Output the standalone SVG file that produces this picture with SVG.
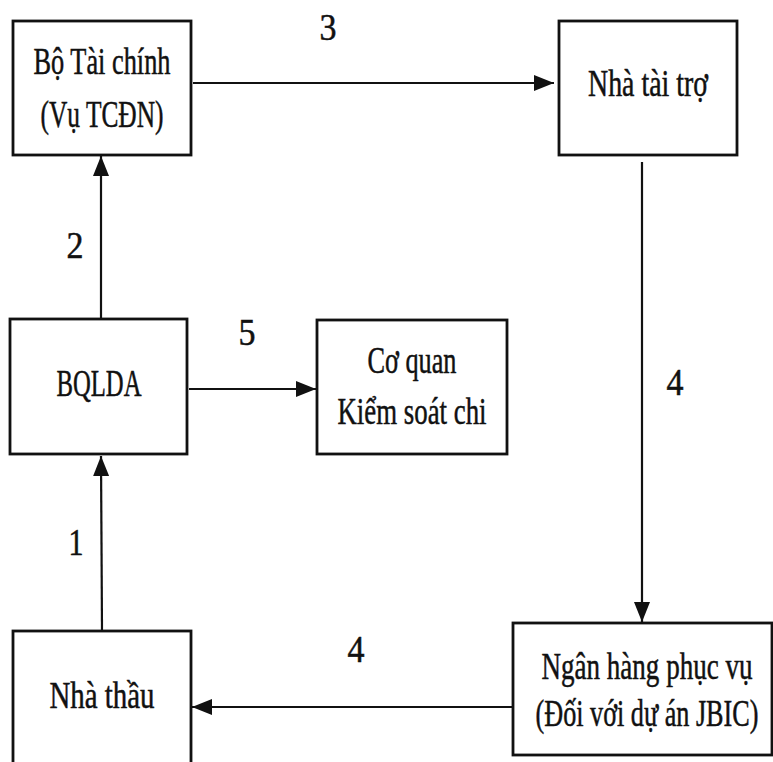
<svg xmlns="http://www.w3.org/2000/svg" width="773" height="762" viewBox="0 0 773 762">
<style>
.box{fill:#fff;stroke:#111;stroke-width:2.8}
.ln{stroke:#111;stroke-width:2.2;fill:none}
text{font-family:"Liberation Serif","Times New Roman",serif;font-size:37px;fill:#111;stroke:#111;stroke-width:0.5;text-anchor:middle}
</style>
<defs>
<marker id="ah" viewBox="0 0 20 16" refX="20" refY="8" markerWidth="20" markerHeight="16" markerUnits="userSpaceOnUse" orient="auto">
<path d="M0,0 L20,8 L0,16 Z" fill="#111"/>
</marker>
</defs>
<rect width="773" height="762" fill="#fff"/>
<g id="connectors">
<line class="ln" x1="193" y1="83" x2="554" y2="83" marker-end="url(#ah)"/>
<line class="ln" x1="101" y1="319" x2="101" y2="156" marker-end="url(#ah)"/>
<line class="ln" x1="189" y1="389" x2="316" y2="389" marker-end="url(#ah)"/>
<line class="ln" x1="102" y1="631" x2="101" y2="456" marker-end="url(#ah)"/>
<line class="ln" x1="642" y1="162" x2="642" y2="622" marker-end="url(#ah)"/>
<line class="ln" x1="513" y1="707" x2="192" y2="707" marker-end="url(#ah)"/>
<text x="328" y="40" textLength="17" lengthAdjust="spacingAndGlyphs">3</text>
<text x="75" y="258" textLength="17" lengthAdjust="spacingAndGlyphs">2</text>
<text x="247" y="345" textLength="17" lengthAdjust="spacingAndGlyphs">5</text>
<text x="76" y="555" textLength="15" lengthAdjust="spacingAndGlyphs">1</text>
<text x="675" y="395" textLength="17" lengthAdjust="spacingAndGlyphs">4</text>
<text x="356" y="662" textLength="17" lengthAdjust="spacingAndGlyphs">4</text>
</g>
<g id="bo-tai-chinh">
<rect class="box" x="13" y="21" width="178" height="134"/>
<text x="102" y="74" textLength="137" lengthAdjust="spacingAndGlyphs">Bộ Tài chính</text>
<text x="102" y="127" textLength="123" lengthAdjust="spacingAndGlyphs">(Vụ TCĐN)</text>
</g>
<g id="nha-tai-tro">
<rect class="box" x="559" y="21" width="178" height="134"/>
<text x="648" y="96" textLength="120" lengthAdjust="spacingAndGlyphs">Nhà tài trợ</text>
</g>
<g id="bqlda">
<rect class="box" x="10" y="319" width="177" height="135"/>
<text x="99" y="396" textLength="85" lengthAdjust="spacingAndGlyphs">BQLDA</text>
</g>
<g id="co-quan">
<rect class="box" x="317" y="320" width="190" height="134"/>
<text x="412" y="373" textLength="89" lengthAdjust="spacingAndGlyphs">Cơ quan</text>
<text x="412" y="424" textLength="149" lengthAdjust="spacingAndGlyphs">Kiểm soát chi</text>
</g>
<g id="nha-thau">
<rect class="box" x="13" y="631" width="178" height="145"/>
<text x="102" y="708" textLength="105" lengthAdjust="spacingAndGlyphs">Nhà thầu</text>
</g>
<g id="ngan-hang">
<rect class="box" x="513" y="623" width="259" height="132"/>
<text transform="translate(647,679) scale(0.73,1)" x="0" y="0" textLength="289" lengthAdjust="spacingAndGlyphs">Ngân hàng phục vụ</text>
<text transform="translate(647,726) scale(0.71,1)" x="0" y="0" textLength="314" lengthAdjust="spacingAndGlyphs">(Đối với dự án JBIC)</text>
</g>
</svg>
